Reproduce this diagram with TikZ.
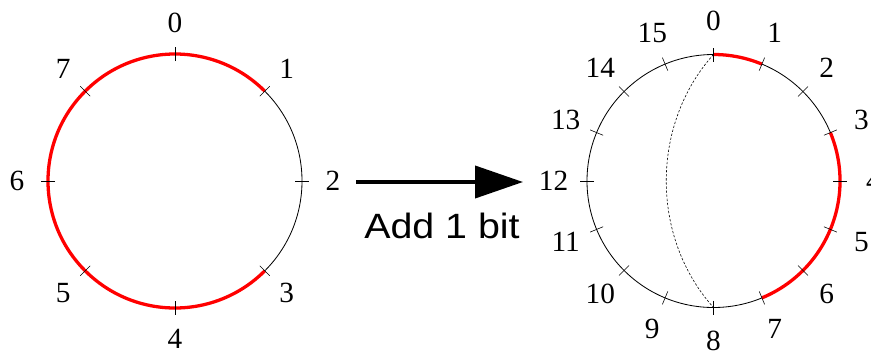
\documentclass[tikz,border=0pt]{standalone}
\usepackage{fontspec}
\setmainfont{Liberation Serif}
\setsansfont{Liberation Sans}
\usetikzlibrary{arrows.meta}

\begin{document}
\begin{tikzpicture}[x=0.03cm,y=0.03cm,
  ring/.style={line width=0.7pt},
  tick/.style={line width=0.5pt},
  bit/.style={red, line width=2.8pt},
  num/.style={font=\fontsize{25}{25}\selectfont}]
 \useasboundingbox (0,0) rectangle (871,351);
 % 3-bit ring
 \begin{scope}[shift={(175,170)}]
  \draw[ring] (0,0) circle (127);
  \draw[bit] (45:127) arc[start angle=45, end angle=315, radius=127];
  \foreach \k in {0,...,7} {
   \draw[tick] ({90-45*\k}:120) -- ({90-45*\k}:134);
   \node[num] (l\k) at ({90-45*\k}:158) {\k};
  }
 \end{scope}
 % arrow
 \coordinate (from) at (356,169);
 \coordinate (to) at (523,169);
 \draw[-{Triangle[length=1.44cm,width=0.96cm]}, line width=3.4pt] (from) -- (to);
 \node[font=\sffamily\fontsize{30}{30}\selectfont] (add) at (442,125) {\scalebox{1.12}[1]{Add 1 bit}};
 % 4-bit ring
 \begin{scope}[shift={(713.5,170)}]
  \draw[ring] (0,0) circle (126.5);
  \draw[bit] (90:126.5) arc[start angle=90, end angle=67.5, radius=126.5];
  \draw[bit] (22.5:126.5) arc[start angle=22.5, end angle=-67.5, radius=126.5];
  \foreach \k in {0,...,15} {
   \draw[tick] ({90-22.5*\k}:119.5) -- ({90-22.5*\k}:133.5);
   \node[num] (r\k) at ({90-22.5*\k}:160) {\k};
  }
  \coordinate (top) at (90:126.5);
  \coordinate (bot) at (-90:126.5);
  \draw[dashed, dash pattern=on 2pt off 1.5pt, line width=0.5pt]
   (top) .. controls +(-63,-70) and +(-63,70) .. (bot);
 \end{scope}
\end{tikzpicture}
\end{document}
